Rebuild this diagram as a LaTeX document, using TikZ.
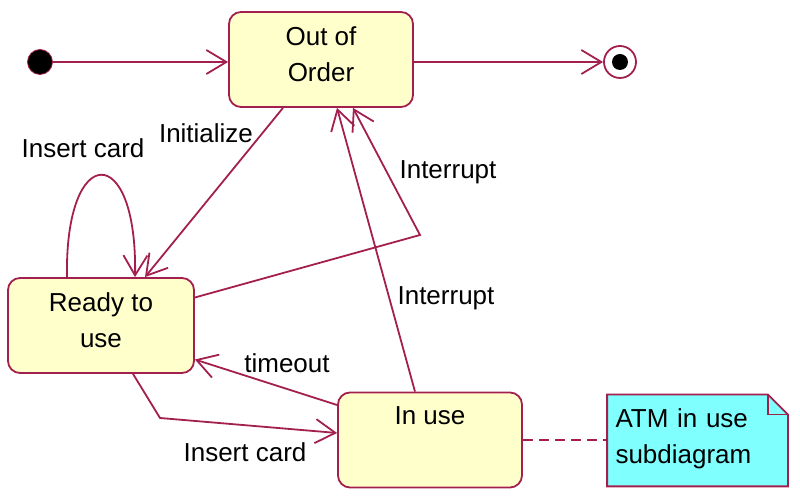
\documentclass[tikz,border=0pt]{standalone}
\usepackage{fontspec}
\setmainfont{Liberation Sans}
\usetikzlibrary{arrows.meta,backgrounds}
\definecolor{umlred}{HTML}{A3204E}
\definecolor{stateyellow}{HTML}{FFFFCC}
\definecolor{notecyan}{HTML}{80FFFF}
\tikzset{statebox/.style={draw=umlred, fill=stateyellow, rounded corners=6pt,
  line width=0.9pt, align=center, minimum width=92pt, minimum height=47.5pt, inner sep=0pt,
  text height=35pt, text depth=12.5pt},
  initstate/.style={circle, draw=umlred, fill=black, minimum size=12.5pt, inner sep=0pt},
  finalstate/.style={circle, draw=umlred, fill=white, line width=0.9pt, minimum size=16pt,
  inner sep=0pt, path picture={\fill[black] (path picture bounding box.center) circle (4pt);}},
  notebox/.style={align=left, text width=82pt, inner xsep=4pt, minimum height=45.5pt},
  trans/.style={-{Straight Barb[length=10pt,width=12pt]}, umlred, line width=0.9pt},
  translabel/.style={inner sep=1pt},
  atm/.style={x=0.5pt, y=-0.5pt, font=\fontsize{13}{18}\selectfont}}

\begin{document}
\begin{tikzpicture}[atm]
    \useasboundingbox (0,0) rectangle (800,496);
    \node[initstate] (init) at (40,62) {};
    \node[statebox] (ooo) at (321,59.5) {Out of\\Order};
    \node[finalstate] (final) at (620,62) {};
    \node[statebox, minimum width=93pt] (ready) at (101,325.5) {Ready to\\use};
    \node[statebox, text height=16pt, text depth=31pt] (inuse) at (430,440) {In use};
    \node[notebox] (note) at (697.5,438.5) {ATM in use\\subdiagram};
    \begin{scope}[on background layer]
      \draw[umlred, fill=notecyan, line width=0.9pt] ([yshift=-1pt]note.north west) -- ([xshift=-10pt,yshift=-1pt]note.north east)
        -- ([yshift=-11pt]note.north east) -- ([yshift=-1pt]note.south east) -- ([yshift=-1pt]note.south west) -- cycle;
      \draw[umlred, line width=0.9pt] ([xshift=-10pt,yshift=-1pt]note.north east) |- ([yshift=-11pt]note.north east);
    \end{scope}
    % bend points
    \coordinate (ibend) at (420,235);
    \coordinate (cbend) at (160,418);
    % transitions
    \draw[trans] (init.east) -- (init.east -| ooo.west);
    \draw[trans] (ooo.east |- final.west) -- (final.west);
    \draw[trans] ([xshift=-19pt]ooo.south) -- ([xshift=22pt]ready.north);
    \draw[trans] ([xshift=-17pt]ready.north) .. controls +(-2.5,-135) and +(2.5,-137) .. ([xshift=17pt]ready.north);
    \draw[trans] ([yshift=14pt]ready.east) -- (ibend) -- ([xshift=16pt]ooo.south);
    \draw[trans] ([xshift=-7.5pt]inuse.north) -- ([xshift=8pt]ooo.south);
    \draw[trans] ([yshift=17.5pt]inuse.west) -- ([yshift=-17pt]ready.east);
    \draw[trans] ([xshift=16pt]ready.south) -- (cbend) -- ([yshift=3.5pt]inuse.west);
    \draw[umlred, line width=0.9pt, dash pattern=on 5pt off 3pt] (inuse.east) -- (inuse.east -| note.west);
    % labels
    \node[translabel] (linit) at (206,133) {Initialize};
    \node[translabel] (lloop) at (83,148) {Insert card};
    \node[translabel] (lintup) at (448,172) {Interrupt};
    \node[translabel] (lintlow) at (446,298) {Interrupt};
    \node[translabel] (ltime) at (287,363) {timeout};
    \node[translabel] (lcard) at (245,452) {Insert card};
\end{tikzpicture}
\end{document}
